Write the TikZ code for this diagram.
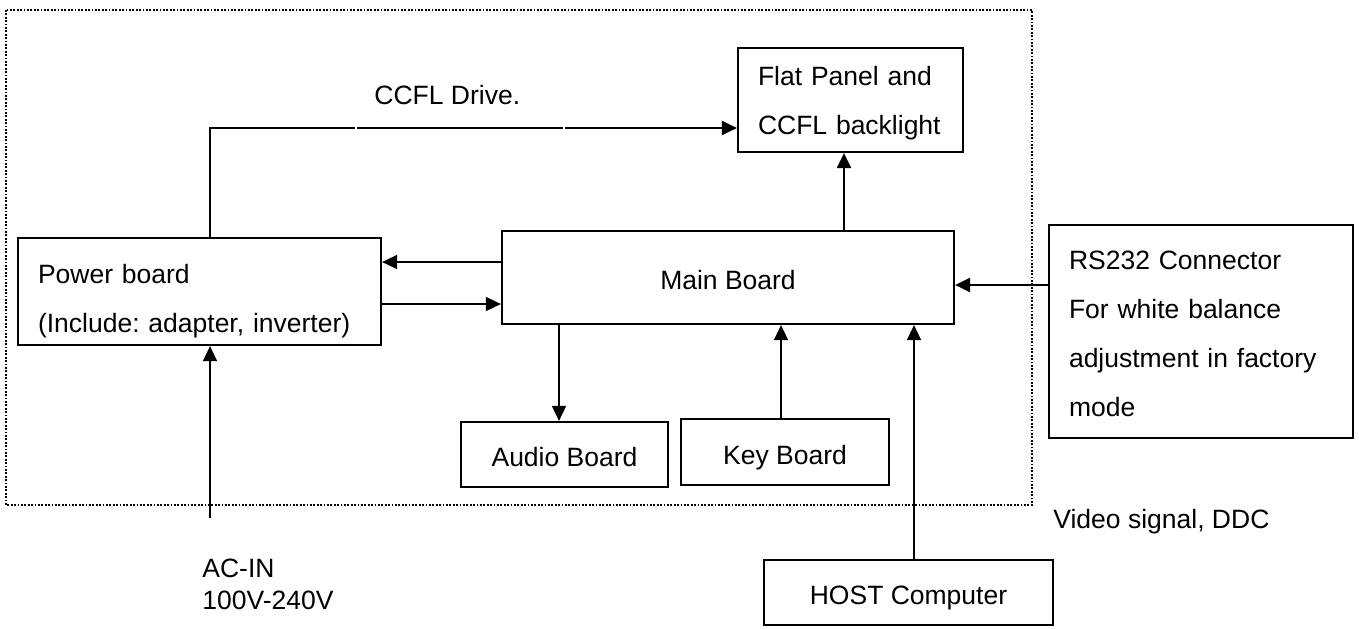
\documentclass[tikz,border=0pt]{standalone}
\usepackage{fontspec}
\setmainfont{Liberation Sans}
\usetikzlibrary{arrows.meta}
\begin{document}
\frenchspacing
\begin{tikzpicture}[x=0.5pt,y=-0.5pt,
  font=\frenchspacing\fontsize{13.25pt}{24.5pt}\selectfont,
  box/.style={draw, line width=1.1pt, inner sep=0pt},
  onebox/.style={box, text height=12pt, text depth=0pt},
  multibox/.style={box, align=left, inner xsep=10pt, inner ysep=0pt, text height=10pt},
  tip/.style={-{Triangle[length=7.5pt,width=7pt]}},
  thinlink/.style={tip, line width=0.8pt},
  thicklink/.style={tip, line width=1.1pt},
  frame/.style={line width=1.05pt, dash pattern=on 0.9pt off 0.8pt},
  txt/.style={inner sep=0pt}
]
\useasboundingbox (0,0) rectangle (1359,628);
% dotted enclosure
\draw[frame] (6,10) rectangle (1032,505);

% boxes
\node[multibox, text width=92.5pt, minimum width=112.5pt, minimum height=52pt, text depth=25pt]
  (flat) at (850.5,100) {Flat Panel and\\CCFL backlight};
\node[onebox, minimum width=226pt, minimum height=46.5pt] (main) at (728,277.5) {Main Board};
\node[multibox, text width=161.5pt, minimum width=181.5pt, minimum height=53.5pt, text depth=18.5pt]
  (power) at (199.5,291.5) {Power board\\(Include: adapter, inverter)};
\node[onebox, minimum width=103.5pt, minimum height=32.5pt] (audio) at (564.5,454.5) {Audio Board};
\node[onebox, minimum width=104pt, minimum height=33pt] (key) at (785,452) {Key Board};
\node[multibox, text width=132pt, minimum width=152pt, minimum height=106.5pt, text depth=72.5pt]
  (rs) at (1201,331.5) {RS232 Connector\\For white balance\\adjustment in factory\\mode};
\node[onebox, minimum width=144.5pt, minimum height=32.5pt] (host) at (908.5,592.5) {HOST Computer};

% free texts
\node[txt, anchor=base west] (ccfltxt) at (374,104) {CCFL Drive.};
\node[txt, anchor=base west, align=left, font=\fontsize{13.25pt}{16pt}\selectfont] (actxt) at (202,609) {AC-IN\\100V-240V};
\node[txt, anchor=base west] (videotxt) at (1053,528) {Video signal, DDC};

% helper coordinates
\coordinate (cx) at (210,0);
\coordinate (cy) at (0,128);
\coordinate (mfx) at (844,0);
\coordinate (y262) at (0,262);
\coordinate (y304) at (0,304);
\coordinate (y285) at (0,285);
\coordinate (x559) at (559,0);
\coordinate (x781) at (781,0);
\coordinate (x914) at (914,0);
\coordinate (acin) at (210,518);

% connectors
\draw[thicklink, dash pattern=on 127pt off 1pt on 103pt off 1pt on 500pt]
  (power.north -| cx) |- (flat.west |- cy);
\draw[thicklink] (main.north -| mfx) -- (flat.south -| mfx);
\draw[thinlink] (main.west |- y262) -- (power.east |- y262);
\draw[thinlink] (power.east |- y304) -- (main.west |- y304);
\draw[thinlink] (main.south -| x559) -- (audio.north -| x559);
\draw[thinlink] (key.north -| x781) -- (main.south -| x781);
\draw[thinlink] (host.north -| x914) -- (main.south -| x914);
\draw[thicklink] (rs.west |- y285) -- (main.east |- y285);
\draw[thinlink] (acin) -- (power.south -| acin);
\end{tikzpicture}
\end{document}
